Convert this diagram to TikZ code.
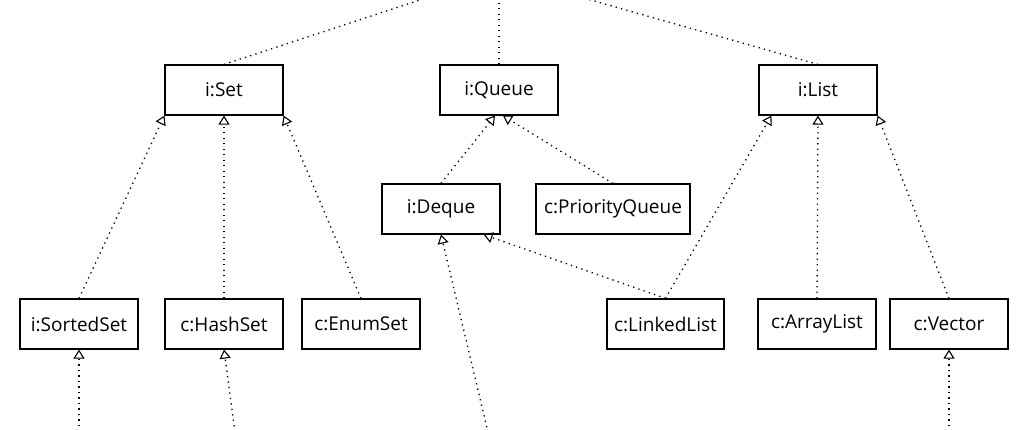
\documentclass[tikz,border=0pt]{standalone}
\usepackage{fontspec}
\setmainfont{Open Sans}
\usetikzlibrary{arrows.meta,calc}
\begin{document}
\begin{tikzpicture}[x=1pt,y=-1pt,
  cls/.style={draw, line width=1.2pt, minimum width=118pt, minimum height=50pt, inner sep=0pt, font=\fontsize{19}{22}\selectfont},
  gen/.style={line width=1.3pt, dash pattern=on 1.3pt off 4.2pt, -{Triangle[open, length=9pt, width=11pt, line width=1.1pt]}},
  dot/.style={line width=1.3pt, dash pattern=on 1.3pt off 4.2pt}]
\clip (0,0) rectangle (1023,429);
\fill[white] (0,0) rectangle (1023,429);
% nodes
\node[cls] (iset) at (224,90) {i:Set};
\node[cls] (iqueue) at (499,90) {i:Queue};
\node[cls] (ilist) at (818,90) {i:List};
\node[cls] (ideque) at (441,209) {i:Deque};
\node[cls, minimum width=154pt] (cpq) at (613,209) {c:PriorityQueue};
\node[cls] (isorted) at (79,324) {i:SortedSet};
\node[cls] (chash) at (224,324) {c:HashSet};
\node[cls] (cenum) at (361,324) {c:EnumSet};
\node[cls, minimum width=117pt] (clinked) at (665.5,324) {c:LinkedList};
\node[cls] (carray) at (817,324) {c:ArrayList};
\node[cls] (cvector) at (949,324) {c:Vector};
% off-canvas ends
\coordinate (top) at (499,-26);
\coordinate (b1) at (79,470);
\coordinate (b2) at (240,470);
\coordinate (b3) at (497,470);
\coordinate (b4) at (949,470);
% connectors to the parent above
\draw[dot] (iset.north) -- (top);
\draw[dot] (iqueue.north) -- (top);
\draw[dot] (ilist.north) -- (top);
% generalisations
\draw[gen] (isorted.north) -- (iset.south west);
\draw[gen] (chash.north) -- (iset.south);
\draw[gen] (cenum.north) -- (iset.south east);
\draw[gen] (ideque.north) -- ($(iqueue.south)+(-4,0)$);
\draw[gen] (cpq.north) -- ($(iqueue.south)+(4,0)$);
\draw[gen] (clinked.north) -- ($(ideque.south east)+(-17,0)$);
\draw[gen] (clinked.north) -- ($(ilist.south west)+(13,0)$);
\draw[gen] (carray.north) -- (ilist.south);
\draw[gen] (cvector.north) -- (ilist.south east);
% from below
\draw[gen] (b1) -- (isorted.south);
\draw[gen] (b2) -- (chash.south);
\draw[gen] (b3) -- (ideque.south);
\draw[gen] (b4) -- (cvector.south);
\end{tikzpicture}
\end{document}
